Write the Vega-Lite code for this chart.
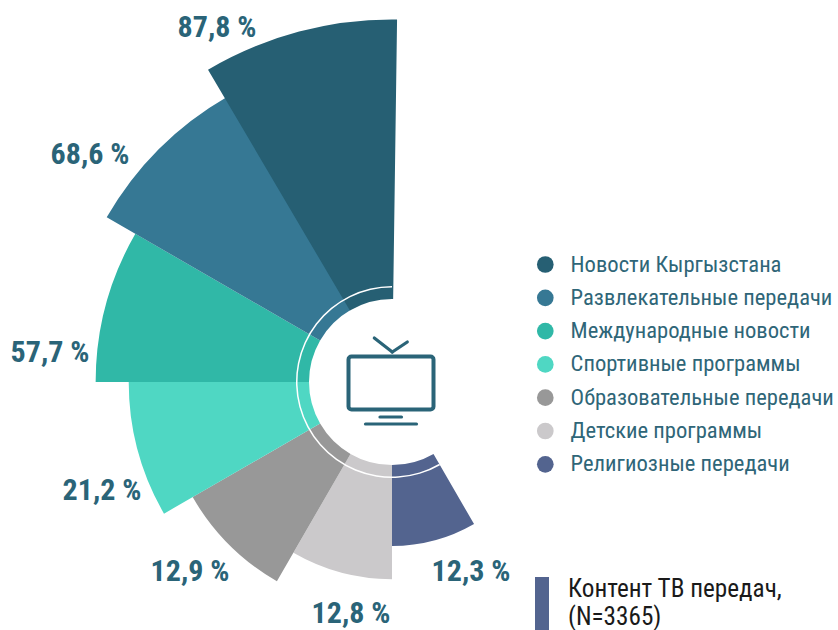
{
"$schema":"https://vega.github.io/schema/vega-lite/v6.json",
"width":838,"height":630,"padding":0,"autosize":{"type":"none"},
"background":"white",
"config":{"view":{"stroke":null},"axis":{"disable":true},"text":{"font":"Roboto Condensed, Roboto"}},
"datasets":{"sectors":[
{"category":"Новости Кыргызстана","value":87.8,"label":"87,8 %","start":329.5,"end":360.8,"order":7},
{"category":"Развлекательные передачи","value":68.6,"label":"68,6 %","start":300,"end":330,"order":6},
{"category":"Международные новости","value":57.7,"label":"57,7 %","start":270,"end":300,"order":5},
{"category":"Спортивные программы","value":21.2,"label":"21,2 %","start":240,"end":270,"order":4},
{"category":"Образовательные передачи","value":12.9,"label":"12,9 %","start":210,"end":240,"order":3},
{"category":"Детские программы","value":12.8,"label":"12,8 %","start":180,"end":210,"order":2},
{"category":"Религиозные передачи","value":12.3,"label":"12,3 %","start":150,"end":180,"order":1}
]},
"data":{"name":"sectors"},
"layer":[
{"mark":{"type":"arc","radius2":83},
 "encoding":{
  "x":{"datum":0,"type":"quantitative","scale":{"domain":[-392,446],"nice":false,"zero":false}},
  "y":{"datum":0,"type":"quantitative","scale":{"domain":[-248,382],"nice":false,"zero":false}},
  "theta":{"field":"start","type":"quantitative","stack":null,"scale":{"domain":[0,360],"range":[0,6.28319]}},
  "theta2":{"field":"end"},
  "radius":{"field":"order","type":"quantitative","scale":{"type":"linear","domain":[0,7],"range":[131,362.5],"zero":false,"nice":false}},
  "order":{"field":"order","type":"quantitative"},
  "color":{"field":"category","type":"nominal","sort":null,
   "scale":{"domain":["Новости Кыргызстана","Развлекательные передачи","Международные новости","Спортивные программы","Образовательные передачи","Детские программы","Религиозные передачи"],
    "range":["#265f73","#367894","#30b8a7","#4fd7c3","#989898","#cbc9cb","#53648f"]},
   "legend":{"title":null,"orient":"none","legendX":534,"legendY":252,"symbolType":"circle","symbolSize":278,"symbolOpacity":1,"symbolStrokeWidth":0,
    "labelFont":"Roboto Condensed, Roboto","labelFontSize":22.6,"labelColor":"#2f6678","labelOffset":14,"rowPadding":8.3,"clipHeight":25,"labelLimit":300,"padding":0}}
 }},
{"data":{"values":[{"ring":"arc","start":150,"end":360}]},
 "mark":{"type":"arc","radius":96,"radius2":94.5,"fill":"white"},
 "encoding":{
  "x":{"datum":0,"type":"quantitative"},"y":{"datum":0,"type":"quantitative"},
  "theta":{"field":"start","type":"quantitative","stack":null,"scale":{"domain":[0,360],"range":[0,6.28319]}},
  "theta2":{"field":"end"}
 }},
{"data":{"values":[{"part":"screen"}]},
 "mark":{"type":"rect","fillOpacity":0,"stroke":"#2a6478","strokeWidth":4,"cornerRadius":3},
 "encoding":{"x":{"datum":-43.5,"type":"quantitative"},"x2":{"datum":41.5},"y":{"datum":25.5,"type":"quantitative"},"y2":{"datum":-27.5}}},
{"data":{"values":[{"part":"antenna left"}]},"mark":{"type":"rule","stroke":"#2a6478","strokeWidth":3.2,"strokeCap":"round"},
 "encoding":{"x":{"datum":-17.7,"type":"quantitative"},"x2":{"datum":0.3},"y":{"datum":44,"type":"quantitative"},"y2":{"datum":30}}},
{"data":{"values":[{"part":"antenna right"}]},"mark":{"type":"rule","stroke":"#2a6478","strokeWidth":3.2,"strokeCap":"round"},
 "encoding":{"x":{"datum":0.3,"type":"quantitative"},"x2":{"datum":15.3},"y":{"datum":30,"type":"quantitative"},"y2":{"datum":40}}},
{"data":{"values":[{"part":"neck"}]},"mark":{"type":"rule","stroke":"#2a6478","strokeWidth":3.2,"strokeCap":"round"},
 "encoding":{"x":{"datum":-12,"type":"quantitative"},"x2":{"datum":9.5},"y":{"datum":-35,"type":"quantitative"},"y2":{"datum":-35}}},
{"data":{"values":[{"part":"base"}]},"mark":{"type":"rule","stroke":"#2a6478","strokeWidth":3.2,"strokeCap":"round"},
 "encoding":{"x":{"datum":-26.5,"type":"quantitative"},"x2":{"datum":24.5},"y":{"datum":-42,"type":"quantitative"},"y2":{"datum":-42}}},
{"transform":[{"filter":"datum.value==87.8"}],"mark":{"type":"text","fontWeight":"bold","fontSize":30,"fill":"#2a6478"},"encoding":{"x":{"datum":-175,"type":"quantitative"},"y":{"datum":354,"type":"quantitative"},"text":{"field":"label"}}},
{"transform":[{"filter":"datum.value==68.6"}],"mark":{"type":"text","fontWeight":"bold","fontSize":30,"fill":"#2a6478"},"encoding":{"x":{"datum":-302,"type":"quantitative"},"y":{"datum":227,"type":"quantitative"},"text":{"field":"label"}}},
{"transform":[{"filter":"datum.value==57.7"}],"mark":{"type":"text","fontWeight":"bold","fontSize":30,"fill":"#2a6478"},"encoding":{"x":{"datum":-342,"type":"quantitative"},"y":{"datum":29,"type":"quantitative"},"text":{"field":"label"}}},
{"transform":[{"filter":"datum.value==21.2"}],"mark":{"type":"text","fontWeight":"bold","fontSize":30,"fill":"#2a6478"},"encoding":{"x":{"datum":-290,"type":"quantitative"},"y":{"datum":-109,"type":"quantitative"},"text":{"field":"label"}}},
{"transform":[{"filter":"datum.value==12.9"}],"mark":{"type":"text","fontWeight":"bold","fontSize":30,"fill":"#2a6478"},"encoding":{"x":{"datum":-202,"type":"quantitative"},"y":{"datum":-190,"type":"quantitative"},"text":{"field":"label"}}},
{"transform":[{"filter":"datum.value==12.8"}],"mark":{"type":"text","fontWeight":"bold","fontSize":30,"fill":"#2a6478"},"encoding":{"x":{"datum":-41,"type":"quantitative"},"y":{"datum":-232,"type":"quantitative"},"text":{"field":"label"}}},
{"transform":[{"filter":"datum.value==12.3"}],"mark":{"type":"text","fontWeight":"bold","fontSize":30,"fill":"#2a6478"},"encoding":{"x":{"datum":79,"type":"quantitative"},"y":{"datum":-190,"type":"quantitative"},"text":{"field":"label"}}},
{"data":{"values":[{"part":"note bar"}]},"mark":{"type":"rect","fill":"#53648f"},
 "encoding":{"x":{"datum":143,"type":"quantitative"},"x2":{"datum":157},"y":{"datum":-195,"type":"quantitative"},"y2":{"datum":-248}}},
{"data":{"values":[{"t":"Контент ТВ передач,"}]},"mark":{"type":"text","align":"left","fontSize":25.2,"fill":"#1a1a1a"},
 "encoding":{"x":{"datum":176,"type":"quantitative"},"y":{"datum":-207,"type":"quantitative"},"text":{"field":"t"}}},
{"data":{"values":[{"t":"(N=3365)"}]},"mark":{"type":"text","align":"left","fontSize":25.2,"fill":"#1a1a1a"},
 "encoding":{"x":{"datum":176,"type":"quantitative"},"y":{"datum":-234.5,"type":"quantitative"},"text":{"field":"t"}}}
]
}
